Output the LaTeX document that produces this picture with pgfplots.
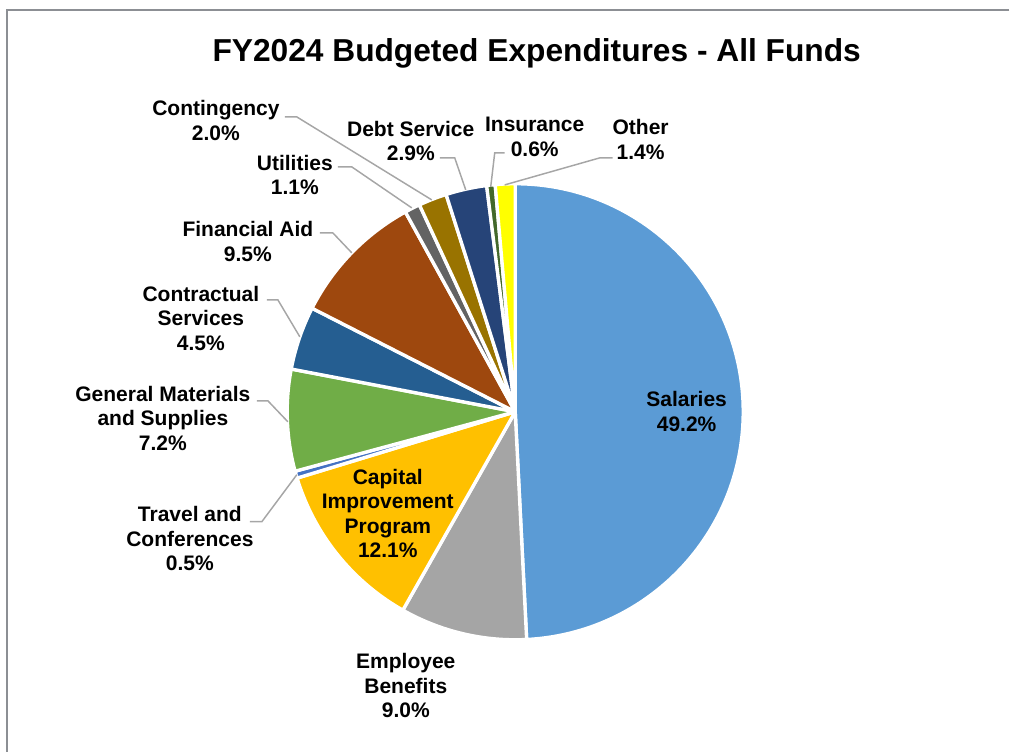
\documentclass[border=0pt]{standalone}
\usepackage{pgfplots}
\pgfplotsset{compat=1.18}
\usepackage{fontspec}
\setmainfont{Liberation Sans}

\definecolor{cSal}{HTML}{5B9BD5}
\definecolor{cBen}{HTML}{A5A5A5}
\definecolor{cCap}{HTML}{FFC000}
\definecolor{cTrv}{HTML}{4472C4}
\definecolor{cGen}{HTML}{70AD47}
\definecolor{cCon}{HTML}{255E91}
\definecolor{cAid}{HTML}{9E480E}
\definecolor{cUti}{HTML}{636363}
\definecolor{cCtg}{HTML}{997300}
\definecolor{cDebt}{HTML}{264478}
\definecolor{cIns}{HTML}{43682B}
\definecolor{cOth}{HTML}{FFFF00}
\definecolor{frame}{HTML}{8C8F94}
\definecolor{leader}{HTML}{A6A6A6}

% pie radius and running start angle (clockwise from 12 o'clock)
\newcommand\R{108.6pt}
\def\startang{90}
\newcommand\slice[2]{%
  \pgfmathsetmacro\endang{\startang-#1*3.6}%
  \edef\doslice{\noexpand\fill[#2,draw=white,line width=1.6pt,line join=round]
    (axis cs:515.5,340) -- ++(\startang:\R)
    arc[start angle=\startang, end angle=\endang, radius=\R] -- cycle;}%
  \doslice
  \global\let\startang\endang
}

\begin{document}
\begin{tikzpicture}[
    lbl/.style={font=\fontsize{10}{11.66}\selectfont\bfseries,
      align=center, inner sep=0pt},
    ld/.style={draw=leader, line width=0.7pt},
]
\begin{axis}[
    x=0.476pt, y=0.476pt,
    xmin=0, xmax=1010, ymin=0, ymax=752,
    enlargelimits=false,
    hide axis, clip=false,
]
\path (axis cs:0,0) rectangle (axis cs:1010,752);
\draw[frame, line width=0.55pt] (axis cs:1010,742) -- (axis cs:7,742) -- (axis cs:7,0);

% slices, percent of total
\slice{49.2}{cSal}
\slice{9.0}{cBen}
\slice{12.1}{cCap}
\slice{0.5}{cTrv}
\slice{7.2}{cGen}
\slice{4.5}{cCon}
\slice{9.5}{cAid}
\slice{1.1}{cUti}
\slice{2.0}{cCtg}
\slice{2.9}{cDebt}
\slice{0.6}{cIns}
\slice{1.4}{cOth}

% leader lines
\draw[ld] (axis cs:285,635) -- (axis cs:297,635) -- (axis cs:432,552);
\draw[ld] (axis cs:338,585) -- (axis cs:352,585) -- (axis cs:412,544);
\draw[ld] (axis cs:440,594) -- (axis cs:455,594) -- (axis cs:466,562);
\draw[ld] (axis cs:505,599) -- (axis cs:495,599) -- (axis cs:491,565);
\draw[ld] (axis cs:613,594) -- (axis cs:600,594) -- (axis cs:505,567);
\draw[ld] (axis cs:320,519) -- (axis cs:333,519) -- (axis cs:352,499);
\draw[ld] (axis cs:267,452) -- (axis cs:278,452) -- (axis cs:300,415);
\draw[ld] (axis cs:257,351) -- (axis cs:268,351) -- (axis cs:288,330);
\draw[ld] (axis cs:250,230) -- (axis cs:262,230) -- (axis cs:297,277);

\node[anchor=base, font=\fontsize{15.1}{18}\selectfont\bfseries]
  at (axis cs:537,690) {FY2024 Budgeted Expenditures - All Funds};

\node[lbl] at (axis cs:687,340.5) {Salaries\\49.2\%};
\node[lbl] at (axis cs:406,66) {Employee\\Benefits\\9.0\%};
\node[lbl] at (axis cs:388,238) {Capital\\Improvement\\Program\\12.1\%};
\node[lbl] at (axis cs:190,213) {Travel and\\Conferences\\0.5\%};
\node[lbl] at (axis cs:163,333.5) {General Materials\\and Supplies\\7.2\%};
\node[lbl] at (axis cs:201,433.5) {Contractual\\Services\\4.5\%};
\node[lbl] at (axis cs:248,510.5) {Financial Aid\\9.5\%};
\node[lbl] at (axis cs:295,577) {Utilities\\1.1\%};
\node[lbl] at (axis cs:216,631.5) {Contingency\\2.0\%};
\node[lbl] at (axis cs:411,611) {Debt Service\\2.9\%};
\node[lbl] at (axis cs:535,615) {Insurance\\0.6\%};
\node[lbl] at (axis cs:641,612.5) {Other\\1.4\%};
\end{axis}
\end{tikzpicture}
\end{document}
